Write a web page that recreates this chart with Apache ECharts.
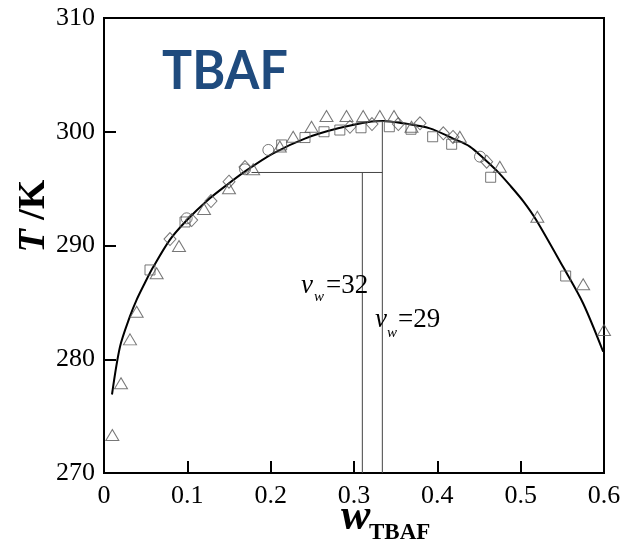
<!DOCTYPE html>
<html>
<head>
<meta charset="utf-8">
<script src="https://cdn.jsdelivr.net/npm/echarts@6/dist/echarts.min.js"></script>
<style>
  html, body { margin: 0; padding: 0; background: #fff; }
  #chart { width: 625px; height: 541px; }
</style>
</head>
<body>
<div id="chart"></div>
<script>
// fitted curve
var curveW = [0.0096, 0.0192, 0.031, 0.039, 0.049, 0.059, 0.079, 0.099, 0.123, 0.147, 0.171, 0.203, 0.241, 0.281, 0.321, 0.335, 0.359, 0.391, 0.419, 0.439, 0.455, 0.471, 0.487, 0.503, 0.519, 0.551, 0.575, 0.599];
var curveT = [276.9, 281.1, 283.74, 285.2, 286.7, 288.1, 290.5, 292.2, 293.9, 295.3, 296.6, 298.1, 299.4, 300.3, 300.9, 300.95, 300.74, 300.3, 299.4, 298.7, 297.7, 296.6, 295.3, 293.9, 292.2, 288.1, 284.9, 280.66];

// measured points (open markers)
var triW = [0.010, 0.0204, 0.0312, 0.0392, 0.0632, 0.090, 0.120, 0.150, 0.179, 0.211, 0.227, 0.249, 0.267, 0.291, 0.311, 0.331, 0.348, 0.369, 0.427, 0.475, 0.520, 0.575, 0.600];
var triT = [273.34, 277.89, 281.75, 284.18, 287.56, 289.96, 293.21, 295.03, 296.70, 298.7, 299.56, 300.44, 301.38, 301.38, 301.38, 301.38, 301.38, 300.44, 299.56, 296.93, 292.53, 286.59, 282.57];

var sqW = [0.0552, 0.0972, 0.2132, 0.2412, 0.264, 0.283, 0.3084, 0.3424, 0.3684, 0.3944, 0.4172, 0.464, 0.554];
var sqT = [287.85, 292.07, 298.84, 299.49, 300.0, 300.15, 300.35, 300.44, 300.22, 299.56, 298.90, 296.0, 287.32];

var diaW = [0.0792, 0.1052, 0.1284, 0.150, 0.1692, 0.2952, 0.3216, 0.3532, 0.3792, 0.4072, 0.4188, 0.4592];
var diaT = [290.57, 292.24, 293.91, 295.61, 296.90, 300.44, 300.68, 300.68, 300.74, 299.86, 299.54, 297.37];

var cirW = [0.0992, 0.1692, 0.1972, 0.4512];
var cirT = [292.39, 296.70, 298.40, 297.81];

// guide lines for v_w = 32 and v_w = 29
var guideH = [[0.177, 296.42], [0.334, 296.42]];
var guideV32 = [[0.310, 270], [0.310, 296.42]];
var guideV29 = [[0.334, 270], [0.334, 301.0]];

var xTicks = [0, 0.1, 0.2, 0.3, 0.4, 0.5, 0.6];
var yTicks = [270, 280, 290, 300, 310];

function pairs(xs, ys) {
    return xs.map(function (x, i) { return [x, ys[i]]; });
}

var serif = '"Liberation Serif", "Times New Roman", serif';
var markStyle = { color: 'rgba(0,0,0,0)', borderColor: '#555', borderWidth: 1 };

var chart = echarts.init(document.getElementById('chart'));
chart.setOption({
    animation: false,
    grid: {
        left: 104, right: 21, top: 18, bottom: 68,
        show: true, borderColor: '#000', borderWidth: 2
    },
    xAxis: {
        type: 'value',
        min: xTicks[0], max: xTicks[xTicks.length - 1], interval: 0.1,
        axisLine: { lineStyle: { color: '#000', width: 2 } },
        axisTick: { inside: true, length: 12, lineStyle: { color: '#000', width: 2 } },
        axisLabel: { margin: 10, color: '#000', fontSize: 26, fontFamily: serif },
        splitLine: { show: false }
    },
    yAxis: {
        type: 'value',
        min: yTicks[0], max: yTicks[yTicks.length - 1], interval: 10,
        axisLine: { lineStyle: { color: '#000', width: 2 } },
        axisTick: { inside: true, length: 12, lineStyle: { color: '#000', width: 2 } },
        axisLabel: { margin: 9, color: '#000', fontSize: 26, fontFamily: serif },
        splitLine: { show: false }
    },
    series: [
        { type: 'line', data: guideH, symbol: 'none', lineStyle: { color: '#444', width: 1 }, z: 1 },
        { type: 'line', data: guideV32, symbol: 'none', lineStyle: { color: '#444', width: 1 }, z: 1 },
        { type: 'line', data: guideV29, symbol: 'none', lineStyle: { color: '#444', width: 1 }, z: 1 },
        {
            type: 'line', data: pairs(curveW, curveT), symbol: 'none', smooth: 0.3,
            lineStyle: { color: '#000', width: 2 }, z: 2
        },
        { type: 'scatter', data: pairs(triW, triT), symbol: 'triangle', symbolSize: [13, 11], itemStyle: markStyle, z: 3 },
        { type: 'scatter', data: pairs(sqW, sqT), symbol: 'rect', symbolSize: 10, itemStyle: markStyle, z: 3 },
        { type: 'scatter', data: pairs(diaW, diaT), symbol: 'diamond', symbolSize: [12, 13], itemStyle: markStyle, z: 3 },
        { type: 'scatter', data: pairs(cirW, cirT), symbol: 'circle', symbolSize: 11, itemStyle: markStyle, z: 3 }
    ],
    graphic: [
        // big title, squeezed a little to match the narrow original face
        {
            type: 'text', x: 162, y: 72, scaleX: 0.93, z: 10,
            style: {
                text: 'TBAF', font: 'bold 54px Lato, "Open Sans", sans-serif', fill: '#1f4b7e',
                textAlign: 'left', textVerticalAlign: 'middle',
                shadowBlur: 4, shadowColor: 'rgba(0,0,0,0.45)', shadowOffsetX: 2, shadowOffsetY: 2
            }
        },
        // y axis title
        {
            type: 'text', x: 34, y: 216, rotation: Math.PI / 2, z: 10,
            style: {
                text: '{i|T} /K', textAlign: 'center', textVerticalAlign: 'middle',
                font: 'bold 38px ' + serif, fill: '#000',
                rich: { i: { fontStyle: 'italic', fontWeight: 'bold', fontSize: 38, fontFamily: serif } }
            }
        },
        // x axis title
        { type: 'text', x: 341, y: 540, z: 10, style: { text: 'w', font: 'italic bold 44px ' + serif, fill: '#000', textAlign: 'left', textVerticalAlign: 'bottom' } },
        { type: 'text', x: 369, y: 545, z: 10, style: { text: 'TBAF', font: 'bold 23px ' + serif, fill: '#000', textAlign: 'left', textVerticalAlign: 'bottom' } },
        // v_w = 32
        { type: 'text', x: 301, y: 299, z: 10, style: { text: 'v', font: 'italic 27px ' + serif, fill: '#000', textAlign: 'left', textVerticalAlign: 'bottom' } },
        { type: 'text', x: 314, y: 305, z: 10, style: { text: 'w', font: 'italic 15px ' + serif, fill: '#000', textAlign: 'left', textVerticalAlign: 'bottom' } },
        { type: 'text', x: 326, y: 299, z: 10, style: { text: '=32', font: '27px ' + serif, fill: '#000', textAlign: 'left', textVerticalAlign: 'bottom' } },
        // v_w = 29
        { type: 'text', x: 375, y: 333, z: 10, style: { text: 'v', font: 'italic 27px ' + serif, fill: '#000', textAlign: 'left', textVerticalAlign: 'bottom' } },
        { type: 'text', x: 387, y: 341, z: 10, style: { text: 'w', font: 'italic 15px ' + serif, fill: '#000', textAlign: 'left', textVerticalAlign: 'bottom' } },
        { type: 'text', x: 398, y: 333, z: 10, style: { text: '=29', font: '27px ' + serif, fill: '#000', textAlign: 'left', textVerticalAlign: 'bottom' } }
    ]
});
</script>
</body>
</html>
